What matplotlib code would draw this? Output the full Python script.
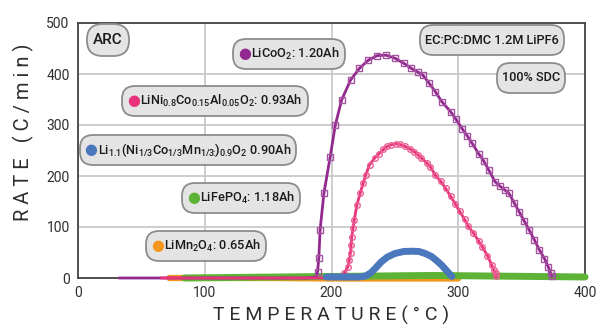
import matplotlib
matplotlib.use("Agg")
import matplotlib.pyplot as plt
from matplotlib.offsetbox import AnchoredOffsetbox, HPacker, TextArea, DrawingArea

fam = "Roboto"
plt.rcParams["font.family"] = [fam, "DejaVu Sans"]
plt.rcParams["mathtext.fontset"] = "custom"
plt.rcParams["mathtext.rm"] = fam + ":medium"
plt.rcParams["mathtext.bf"] = fam + ":bold"

# LiCoO2 (purple, squares)
licoo2_x = [33, 60, 100, 140, 180, 188, 189, 190, 191, 194, 199, 203, 208, 215, 222, 229,
            236, 243, 250, 257, 263, 268, 272, 277, 282, 287, 294, 298, 303, 307, 311, 316,
            320, 324, 329, 333, 337, 340, 344, 348, 352, 356, 360, 364, 368, 371, 373, 374]
licoo2_y = [0, 0, 0, 0, 0, 2, 12, 39, 94, 166, 238, 300, 349, 388, 411, 427,
            436, 437, 431, 421, 411, 404, 398, 382, 365, 346, 326, 312, 293, 279, 264, 244,
            230, 212, 189, 180, 172, 166, 148, 130, 112, 94, 75, 55, 38, 22, 9, 3]

# LiNi0.8Co0.15Al0.05O2 (pink, circles)
nca_x = [66, 100, 150, 200, 208, 210, 213, 214, 215, 215.5, 216, 217, 218, 220, 222.6, 225,
         227, 230, 234, 237.6, 241, 244, 247, 250.5, 254, 258, 262, 265, 268, 271, 275, 278,
         282, 286, 290, 294, 297.5, 301, 305, 308, 312, 316, 319, 323, 326.5, 328, 329.5, 330]
nca_y = [0, 0, 0, 0, 2, 9, 22, 35, 50, 65, 81, 98, 114, 143, 166, 186,
         202, 222, 235, 244, 252, 258, 261, 263, 262, 258, 253, 248, 242, 235, 226, 218,
         201, 190, 176, 160, 146, 131, 115, 101, 88, 73, 61, 44, 25, 16, 9, 3]

# Li1.1(Ni1/3Co1/3Mn1/3)0.9O2 (blue)
nmc_x = [196, 210, 222, 227, 231, 235, 239, 244, 250, 257, 264, 269, 274, 279, 283, 287, 291, 295]
nmc_y = [2, 2, 2, 4, 10, 20, 31, 41, 48, 52, 52.5, 52, 48, 42, 34, 25, 14, 3]

# LiFePO4 (green)
lfp_x = [84, 120, 160, 200, 240, 280, 320, 360, 400]
lfp_y = [0, 1, 2, 3, 4, 5, 4, 3, 2]

# LiMn2O4 (orange)
lmo_x = [72, 100, 150, 200, 250, 300]
lmo_y = [0, 0, 0, -1, -1, -1]

purple = "#93288e"
pink = "#e8337c"
blue = "#4b78bd"
green = "#5cb335"
orange = "#f4961e"
dark = "#2e2e2e"

fig = plt.figure(figsize=(5.98, 3.29), dpi=100)
ax = fig.add_axes([78 / 598, 1 - 278 / 329, (585 - 78) / 598, (278 - 23) / 329])

ax.plot(licoo2_x, licoo2_y, color=purple, lw=2.0, marker="s", ms=4, mfc="none",
        mec="#a453a0", mew=1.0, markevery=list(range(6, len(licoo2_x))), clip_on=False, zorder=4)
ax.plot(nca_x, nca_y, color=pink, lw=2.0, marker="o", ms=4, mfc="none",
        mec="#ec5f93", mew=1.0, markevery=list(range(5, len(nca_x))), clip_on=False, zorder=4)
ax.plot(lmo_x, lmo_y, color=orange, lw=4.5, solid_capstyle="round", clip_on=False, zorder=3)
ax.plot(lfp_x, lfp_y, color=green, lw=5, solid_capstyle="round", clip_on=False, zorder=3)
ax.plot(nmc_x, nmc_y, color=blue, lw=5, solid_capstyle="round", clip_on=False, zorder=5)

ax.set_xlim(0, 400)
ax.set_ylim(0, 500)
ax.set_xticks([0, 100, 200, 300, 400])
ax.set_yticks([0, 100, 200, 300, 400, 500])
ax.tick_params(length=0, labelsize=10, colors=dark, pad=6)
ax.grid(True, color="#c9c9cc", lw=1.3)
ax.set_axisbelow(True)
for s in ax.spines.values():
    s.set_color("#444444")
    s.set_linewidth(1.3)

ax.set_xlabel("T E M P E R A T U R E ( ° C )", fontsize=14, color=dark, labelpad=4)
ax.set_ylabel("R A T E   ( C / m i n )", fontsize=14.5, color=dark)
ax.yaxis.set_label_coords(-0.086, 0.573)


def pill(text, cx, cy, dot=None, size=9.2):
    # zero-width spacer keeps every pill the same height
    parts = [DrawingArea(0, 14.5)]
    if dot is not None:
        parts.append(TextArea("●", textprops=dict(color=dot, fontsize=size + 1.5, family="DejaVu Sans")))
    parts.append(TextArea(text, textprops=dict(color="#1a1a1a", fontsize=size, fontweight="medium")))
    box = HPacker(children=parts, align="center", pad=0, sep=0)
    ab = AnchoredOffsetbox(loc="center", child=box, pad=0.28, borderpad=0, frameon=True,
                           bbox_to_anchor=(cx / 598, 1 - cy / 329), bbox_transform=fig.transFigure,
                           prop=dict(size=size))
    ab.patch.set_boxstyle("round,pad=0.1,rounding_size=1.0")
    ab.patch.set_facecolor("#e4e4e4")
    ab.patch.set_edgecolor("#8c8c8c")
    ab.patch.set_linewidth(1.3)
    ab.set_zorder(6)
    ax.add_artist(ab)


pill("ARC", 108, 40, size=11)
pill(r"LiCoO$\mathregular{_2}$: 1.20Ah", 289, 54, purple)
pill(r"LiNi$\mathregular{_{0.8}}$Co$\mathregular{_{0.15}}$Al$\mathregular{_{0.05}}$O$\mathregular{_2}$: 0.93Ah",
     215, 101, pink)
pill(r"Li$\mathregular{_{1.1}}$(Ni$\mathregular{_{1/3}}$Co$\mathregular{_{1/3}}$Mn$\mathregular{_{1/3\!\!:\!\!}}$)$\mathregular{_{0.9}}$O$\mathregular{_2}$ 0.90Ah",
     188, 150, blue)
pill(r"LiFePO$\mathregular{_4}$: 1.18Ah", 241, 198, green)
pill(r"LiMn$\mathregular{_2}$O$\mathregular{_4}$: 0.65Ah", 206, 246, orange)
pill("EC:PC:DMC 1.2M LiPF6", 492, 40)
pill("100% SDC", 531, 78)

fig.savefig("out.png", dpi=100)
